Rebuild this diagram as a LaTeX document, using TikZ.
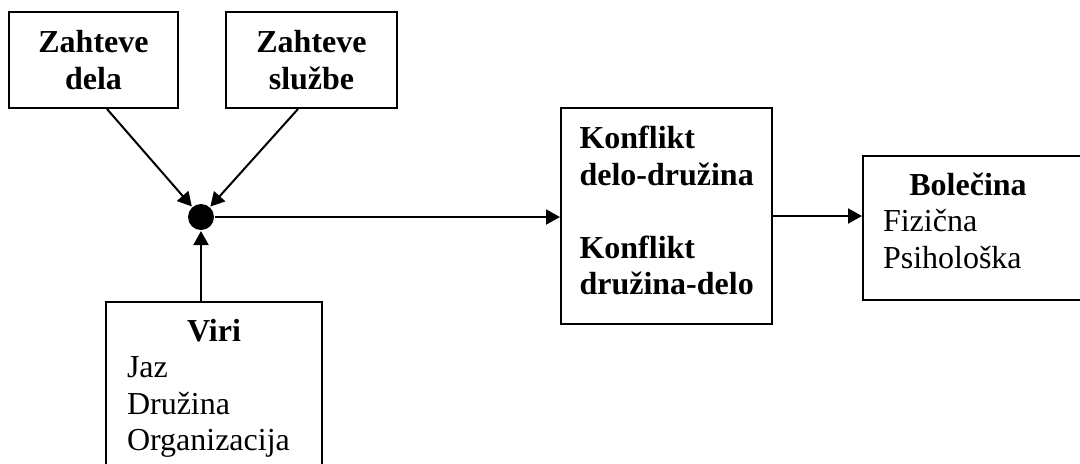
\documentclass[tikz,border=0pt]{standalone}
\usepackage{fontspec}
\setmainfont{Liberation Serif}
\usetikzlibrary{arrows.meta}

\begin{document}
\begin{tikzpicture}[
                        x=0.5pt, y=-0.5pt,
                        line width=1pt,
                        >={Triangle[length=7pt,width=7.5pt]},
                        block/.style={rectangle, draw, line width=1pt, font=\fontsize{16}{18.25}\selectfont},
                        boldblock/.style={block, font=\fontsize{16}{18.25}\selectfont\bfseries},
                        junction/.style={circle, fill, inner sep=0pt, minimum size=13pt}
                    ]
                    \clip (0,0) rectangle (1080,463);
                    % Blocks
                    \node [boldblock, minimum width=84.5pt, minimum height=48pt, align=center] (dela) at (93.5,60) {Zahteve\\dela};
                    \node [boldblock, minimum width=85.5pt, minimum height=48pt, align=center] (sluzbe) at (311.5,60) {Zahteve\\službe};
                    \node [junction] (spoj) at (201,217) {};
                    \node [block, anchor=north, text width=87pt, inner xsep=10.5pt, inner ysep=8.5pt, align=left] (viri) at (214,301) {{\centering\bfseries Viri\par}Jaz\\Družina\\Organizacija};
                    \node [boldblock, text width=87pt, inner xsep=9.25pt, minimum height=108pt, align=left] (konflikt) at (666.5,216) {Konflikt\\\mbox{delo-družina}\\[18.25pt]Konflikt\\\mbox{družina-delo}\rule[-5.5pt]{0pt}{5.5pt}};
                    \node [block, text width=98.5pt, inner xsep=10pt, minimum height=72pt, align=left] (bolecina) at (981.5,228) {\makebox[85pt]{\bfseries Bolečina}\\Fizična\\Psihološka\rule[-7.5pt]{0pt}{7.5pt}};

                    % Connections
                    \draw [->] ([xshift=6.75pt]dela.south) -- (spoj);
                    \draw [->] ([xshift=-6.75pt]sluzbe.south) -- (spoj);
                    \draw [->] (viri.north -| spoj) -- (spoj);
                    \draw [->] (spoj) -- (spoj -| konflikt.west);
                    \draw [->] (konflikt.east) -- (konflikt.east -| bolecina.west);
                \end{tikzpicture}
\end{document}
